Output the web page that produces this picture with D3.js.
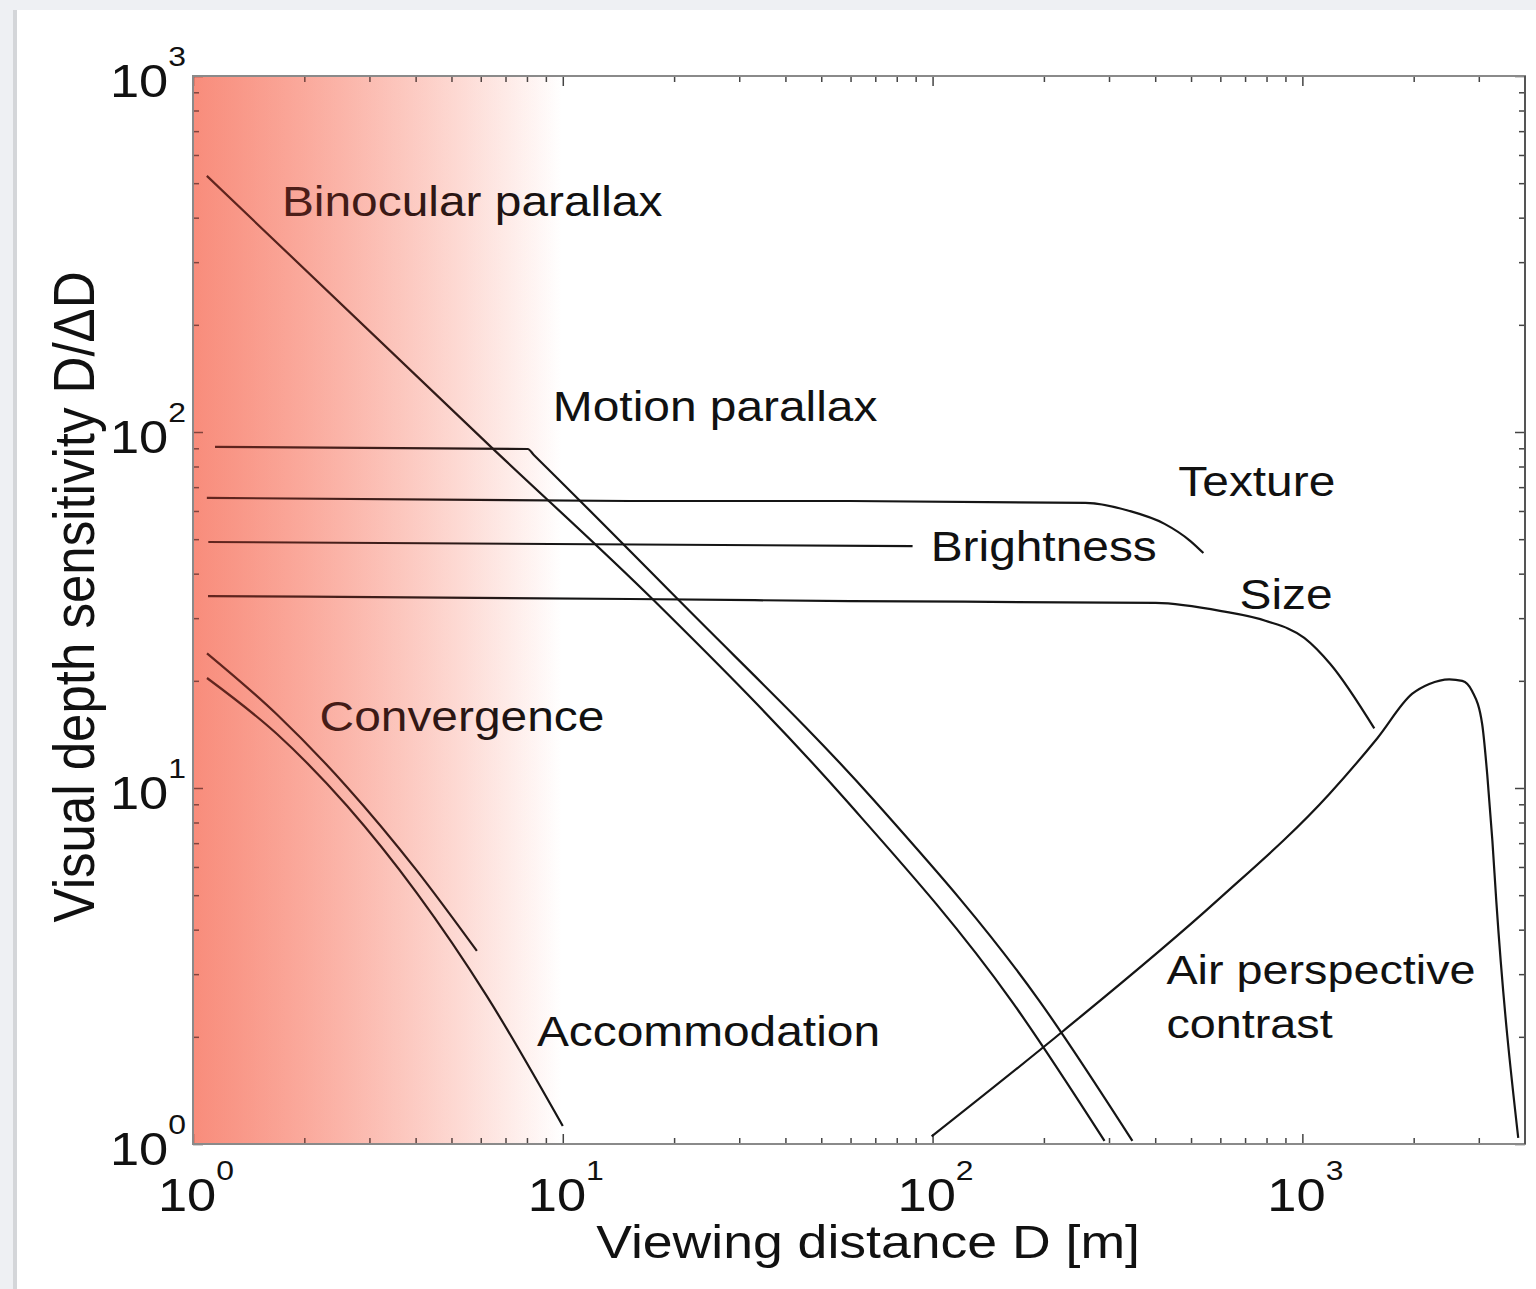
<!DOCTYPE html>
<html>
<head>
<title>Visual depth sensitivity vs viewing distance</title>
<script src="https://d3js.org/d3.v7.min.js"></script>
<style>
  body {margin:0; background-color:#eef0f3; overflow:hidden;}
  svg {display:block;}
  text {font-family:"Liberation Sans", Arial, Helvetica, sans-serif; fill:#111;}
</style>
</head>
<body>
<svg id="chart" width="1536" height="1289"></svg>
<script>
// each cue: [viewing distance D (m), sensitivity D/dD]
var binocular = [[1.09,524],[6.35,91.4],[17.7,33.5],[58.6,9.19],[163.6,2.52],[291.7,1.02]];
var motion = [[1.147,90.8],[8.04,89.6],[8.35,86.2],[20.7,33.5],[69.7,9.19],[194.6,2.52],[347,1.02]];
var texture = [[1.09,65.3],[15.2,64.0],[59.7,64.0],[259,63.2],[341,60.0],[424,55.2],[498,49.4],[540,45.7]];
var brightness = [[1.10,49.1],[88.3,47.8]];
var size = [[1.098,34.6],[15.2,33.96],[59.7,33.5],[401,33.1],[604,31.4],[794,29.5],[1012,26.4],[1190,22.3],[1565,14.7]];
var airPerspective = [[99.4,1.05],[226,2.08],[586,4.81],[1183,9.62],[1595,13.8],[1983,18.4],[2204,19.6],[2496,20.2],
                      [2706,20.0],[2879,18.7],[3064,15.1],[3162,10.9],[3265,7.10],[3345,4.82],[3835,1.04]];
var convergence = [[1.091,23.9],[1.687,16.09],[2.608,10.07],[4.031,5.86],[5.857,3.485]];
var accommodation = [[1.091,20.37],[1.687,14.18],[2.608,8.91],[4.031,5.065],[6.232,2.602],[10.0,1.123]];

var cues = [binocular, motion, texture, brightness, size, airPerspective, convergence, accommodation];

// curve labels: text, anchor D, anchor D/dD (left end of baseline)
var labelText = ["Binocular parallax", "Motion parallax", "Texture", "Brightness", "Size",
                 "Convergence", "Accommodation", "Air perspective", "contrast"];
var labelD = [1.74, 9.40, 462, 98.8, 676, 2.20, 8.51, 429, 429];
var labelS = [404, 107.4, 66.1, 43.4, 31.8, 14.5, 1.88, 2.81, 1.99];

var majorTicks = [1, 10, 100, 1000];
var tickExp = ["0", "1", "2", "3"];

var svg = d3.select("#chart");
var W = 1536, H = 1289;
var pL = 193, pT = 76, pR = 1525, pB = 1144;
var SX = 1.14; // the figure is a little wide, text too

var x = d3.scaleLog().domain([1, 4000]).range([pL, pR]);
var y = d3.scaleLog().domain([1, 1000]).range([pB, pT]);

function minors(maxV) {
  var m = [];
  for (var d = 1; d < maxV; d *= 10)
    for (var k = 2; k <= 9; k++) if (k * d < maxV) m.push(k * d);
  return m;
}

// page panel
svg.append("rect").attr("x", 13).attr("y", 10).attr("width", 5).attr("height", H).attr("fill", "#d4d6d9");
svg.append("rect").attr("x", 17).attr("y", 10).attr("width", W).attr("height", H).attr("fill", "#fff");

var defs = svg.append("defs");
var under = defs.append("linearGradient").attr("id", "under")
  .attr("gradientUnits", "userSpaceOnUse").attr("x1", pL).attr("x2", 562).attr("y1", 0).attr("y2", 0);
under.append("stop").attr("offset", 0).attr("stop-color", "rgb(255,186,170)");
under.append("stop").attr("offset", 1).attr("stop-color", "#fff");
var over = defs.append("linearGradient").attr("id", "over")
  .attr("gradientUnits", "userSpaceOnUse").attr("x1", pL).attr("x2", 562).attr("y1", 0).attr("y2", 0);
over.append("stop").attr("offset", 0).attr("stop-color", "rgb(237,66,47)").attr("stop-opacity", 0.38);
over.append("stop").attr("offset", 1).attr("stop-color", "rgb(237,66,47)").attr("stop-opacity", 0);

svg.append("rect").attr("x", pL).attr("y", pT).attr("width", pR - pL).attr("height", pB - pT)
  .attr("fill", "url(#under)");

// ticks on all four sides, pointing inward
function tickAxis(axis, tr, vals, len) {
  var g = svg.append("g").attr("transform", tr)
    .call(axis.tickValues(vals).tickSize(len).tickFormat(""));
  g.select(".domain").remove();
  g.selectAll("line").attr("stroke", "#444").attr("stroke-width", 1.5);
}
tickAxis(d3.axisBottom(x), "translate(0," + pB + ")", majorTicks, -10);
tickAxis(d3.axisBottom(x), "translate(0," + pB + ")", minors(4000), -6);
tickAxis(d3.axisTop(x), "translate(0," + pT + ")", majorTicks, -10);
tickAxis(d3.axisTop(x), "translate(0," + pT + ")", minors(4000), -6);
tickAxis(d3.axisLeft(y), "translate(" + pL + ",0)", majorTicks, -10);
tickAxis(d3.axisLeft(y), "translate(" + pL + ",0)", minors(1000), -6);
tickAxis(d3.axisRight(y), "translate(" + pR + ",0)", majorTicks, -10);
tickAxis(d3.axisRight(y), "translate(" + pR + ",0)", minors(1000), -6);

var line = d3.line().x(d => x(d[0])).y(d => y(d[1])).curve(d3.curveMonotoneX);
svg.append("g").selectAll("path").data(cues).enter().append("path")
  .attr("d", line).attr("fill", "none").attr("stroke", "#151515").attr("stroke-width", 2.2);

function wideText(px, py, str, fs, anchor) {
  return svg.append("g").attr("transform", "translate(" + px + "," + py + ") scale(" + SX + ",1)")
    .append("text").attr("font-size", fs).attr("text-anchor", anchor).text(str);
}

labelText.forEach(function (t, i) {
  wideText(x(labelD[i]), y(labelS[i]), t, i >= 7 ? 41 : 42, "start");
});

svg.append("rect").attr("x", pL).attr("y", pT).attr("width", pR - pL).attr("height", pB - pT)
  .attr("fill", "url(#over)");

// frame
svg.append("rect").attr("x", pL).attr("y", pT).attr("width", pR - pL).attr("height", pB - pT)
  .attr("fill", "none").attr("stroke", "#8a8a8a").attr("stroke-width", 2);
svg.append("line").attr("x1", pR).attr("x2", pR).attr("y1", pT).attr("y2", pB)
  .attr("stroke", "#555").attr("stroke-width", 2);

// tick labels 10^n
majorTicks.forEach(function (v, i) {
  var t = wideText(x(v) + 3, pB + 67, "10", 46, "middle");
  t.append("tspan").attr("dy", -31).attr("font-size", 28).text(tickExp[i]);
  var u = wideText(186, y(v) + 21, "10", 46, "end");
  u.append("tspan").attr("dy", -31).attr("font-size", 28).text(tickExp[i]);
});

// axis titles
wideText(868, 1258, "Viewing distance D [m]", 47, "middle");
svg.append("g").attr("transform", "translate(94,597) scale(" + SX + ",1) rotate(-90)")
  .append("text").attr("font-size", 51).attr("text-anchor", "middle").text("Visual depth sensitivity D/\u0394D");
</script>
</body>
</html>
